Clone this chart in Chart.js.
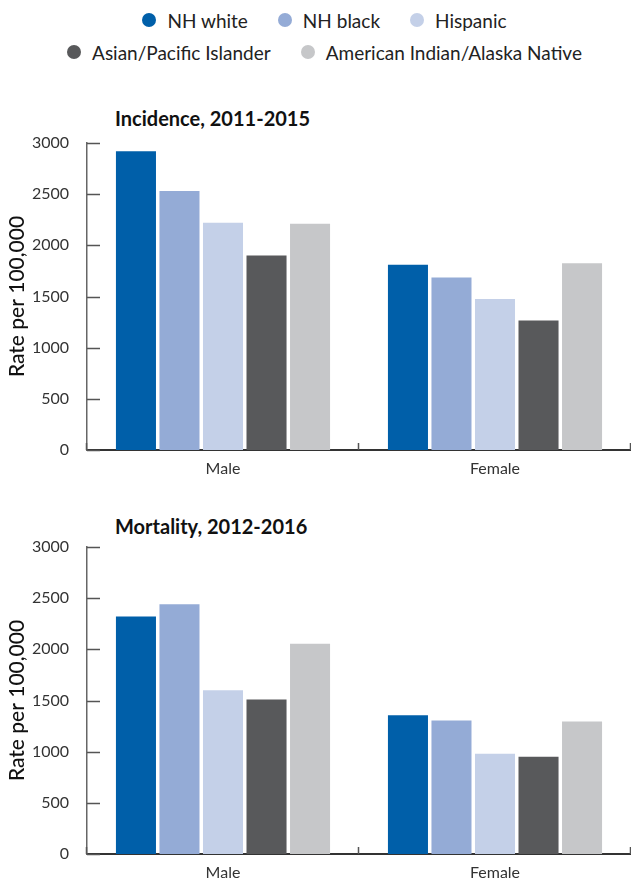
<!DOCTYPE html>
<html>
<head>
<meta charset="utf-8">
<script src="https://cdn.jsdelivr.net/npm/chart.js@4.4.1/dist/chart.umd.min.js"></script>
<style>
  body { margin: 0; width: 631px; height: 880px; overflow: hidden; background: #fff; font-family: Lato, sans-serif; position: relative; }
  .legend { position: absolute; top: 4px; left: 18px; width: 613px; }
  .legend .row { display: flex; justify-content: center; height: 32px; align-items: center; }
  .legend .item { display: flex; align-items: center; margin: 0 15px; font-size: 19px; color: #222; }
  .legend .dot { width: 14px; height: 14px; border-radius: 50%; margin-right: 11px; }
  .title { position: absolute; left: 115px; font-size: 20px; font-weight: bold; color: #111; }
  .box { position: absolute; left: 0; width: 631px; height: 380px; }
</style>
</head>
<body>
<div class="legend" id="legend"></div>
<div class="title" style="top:106px">Incidence, 2011-2015</div>
<div class="box" style="top:100px"><canvas id="inc" width="631" height="380"></canvas></div>
<div class="title" style="top:514px">Mortality, 2012-2016</div>
<div class="box" style="top:504px"><canvas id="mort" width="631" height="380"></canvas></div>
<script>
const groups = ['Male', 'Female'];
const races = ['NH white', 'NH black', 'Hispanic', 'Asian/Pacific Islander', 'American Indian/Alaska Native'];
const colors = ['#005fa9', '#94abd6', '#c4d0e8', '#58595b', '#c6c7c9'];

// values per race
const incidenceMale = [2920, 2530, 2220, 1900, 2210];
const incidenceFemale = [1810, 1685, 1475, 1265, 1825];
const mortalityMale = [2320, 2440, 1600, 1510, 2055];
const mortalityFemale = [1355, 1305, 980, 950, 1295];

const yMax = 3000;
const yStep = 500;

// legend in two rows like the original
const legendRows = [[0, 1, 2], [3, 4]];
const legend = document.getElementById('legend');
legendRows.forEach(function (row) {
  const r = document.createElement('div');
  r.className = 'row';
  row.forEach(function (i) {
    r.innerHTML += '<div class="item"><span class="dot" style="background:' + colors[i] + '"></span>' + races[i] + '</div>';
  });
  legend.appendChild(r);
});

// ticks that point into the plot area
const innerTicks = {
  id: 'innerTicks',
  afterDraw(chart) {
    const ctx = chart.ctx;
    const x = chart.scales.x;
    const y = chart.scales.y;
    ctx.save();
    ctx.strokeStyle = '#555';
    ctx.lineWidth = 1.5;
    ctx.beginPath();
    y.ticks.forEach(function (t, i) {
      const py = Math.round(y.getPixelForTick(i)) + 0.5;
      ctx.moveTo(x.left, py);
      ctx.lineTo(x.left + 13, py);
    });
    const half = x.width / groups.length / 2;
    for (let i = 0; i <= groups.length; i++) {
      const px = i < groups.length ? x.getPixelForValue(i) - half : x.getPixelForValue(i - 1) + half;
      ctx.moveTo(px - 0.5, y.bottom);
      ctx.lineTo(px - 0.5, y.bottom - 7);
    }
    ctx.stroke();
    ctx.restore();
  }
};

const makeChart = function (id, male, female) {
  const datasets = races.map(function (name, i) {
    return {
      label: name,
      data: [male[i], female[i]],
      backgroundColor: colors[i],
      barPercentage: 0.92,
      categoryPercentage: 0.8
    };
  });
  return new Chart(document.getElementById(id), {
    type: 'bar',
    data: { labels: groups, datasets: datasets },
    plugins: [innerTicks],
    options: {
      responsive: false,
      animation: false,
      layout: { padding: { top: 43, right: 0, left: 0, bottom: 0 } },
      plugins: { legend: { display: false }, tooltip: { enabled: false }, title: { display: false } },
      scales: {
        x: {
          grid: { display: false },
          border: { display: true, color: '#333', width: 2 },
          ticks: { color: '#333', font: { family: 'Lato', size: 16 }, padding: 1 },
          afterFit: function (s) { s.height = 30; }
        },
        y: {
          min: 0,
          max: yMax,
          grid: { display: false },
          border: { display: true, color: '#666', width: 1.5 },
          ticks: {
            stepSize: yStep, color: '#333', font: { family: 'Lato', size: 16 }, padding: 10,
            callback: function (v) { return String(v); }
          },
          title: { display: true, text: 'Rate per 100,000', color: '#111', font: { family: 'Lato', size: 21, weight: '500' }, padding: { top: 5, bottom: 0 } },
          afterFit: function (s) { s.width = 87; }
        }
      }
    }
  });
};

makeChart('inc', incidenceMale, incidenceFemale);
makeChart('mort', mortalityMale, mortalityFemale);
</script>
</body>
</html>
